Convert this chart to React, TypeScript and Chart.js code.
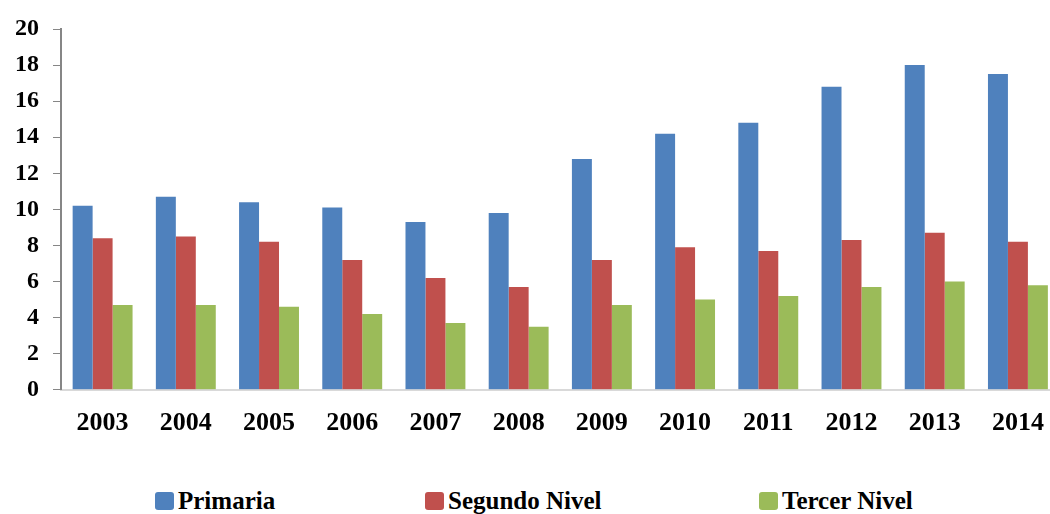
import React, { useEffect, useRef } from "react";
import { Chart, registerables } from "chart.js";

Chart.register(...registerables);

const categories = ["2003", "2004", "2005", "2006", "2007", "2008", "2009", "2010", "2011", "2012", "2013", "2014"];
const primaria = [10.2, 10.7, 10.4, 10.1, 9.3, 9.8, 12.8, 14.2, 14.8, 16.8, 18.0, 17.5];
const segundoNivel = [8.4, 8.5, 8.2, 7.2, 6.2, 5.7, 7.2, 7.9, 7.7, 8.3, 8.7, 8.2];
const tercerNivel = [4.7, 4.7, 4.6, 4.2, 3.7, 3.5, 4.7, 5.0, 5.2, 5.7, 6.0, 5.8];
const seriesNames = ["Primaria", "Segundo Nivel", "Tercer Nivel"];
const seriesColors = ["#4F81BD", "#C0504D", "#9BBB59"];
const legendLeft = [155, 425, 759];

const FONT = "'Liberation Serif', 'Times New Roman', serif";

export default function App() {
  const ref = useRef<HTMLCanvasElement | null>(null);

  useEffect(() => {
    if (!ref.current) return;
    const values = [primaria, segundoNivel, tercerNivel];
    const chart = new Chart(ref.current, {
      type: "bar",
      data: {
        labels: categories,
        datasets: seriesNames.map((name, i) => ({
          label: name,
          data: values[i],
          backgroundColor: seriesColors[i],
          borderWidth: 0,
          barPercentage: 1,
          categoryPercentage: 0.72,
        })),
      },
      options: {
        animation: false,
        responsive: true,
        maintainAspectRatio: false,
        layout: { padding: { top: 29, right: 2, left: 0, bottom: 0 } },
        plugins: {
          legend: { display: false },
          tooltip: { enabled: false },
        },
        scales: {
          x: {
            grid: { drawOnChartArea: false, drawTicks: false },
            border: { color: "#D9D9D9", width: 2 },
            ticks: {
              color: "#000",
              padding: 18,
              font: { family: FONT, size: 26, weight: "bold" },
            },
          },
          y: {
            min: 0,
            max: 20,
            afterFit: (axis: any) => {
              axis.width = 61;
            },
            grid: { drawOnChartArea: false, drawTicks: true, tickLength: 8, color: "#868686" },
            border: { color: "#868686", width: 2 },
            ticks: {
              stepSize: 2,
              color: "#000",
              padding: 14,
              font: { family: FONT, size: 24, weight: "bold" },
            },
          },
        },
      },
    });
    return () => chart.destroy();
  }, []);

  return (
    <div
      style={{
        position: "absolute",
        left: 0,
        top: 0,
        width: 1050,
        height: 514,
        overflow: "hidden",
        background: "#fff",
      }}
    >
      <div style={{ position: "absolute", left: 0, top: 0, width: 1062, height: 457 }}>
        <canvas ref={ref} />
      </div>
      {seriesNames.map((name, i) => (
        <div key={name}>
          <div
            style={{
              position: "absolute",
              left: legendLeft[i],
              top: 492,
              width: 19,
              height: 18,
              background: seriesColors[i],
              borderRadius: 3,
            }}
          />
          <span
            style={{
              position: "absolute",
              left: legendLeft[i] + 23,
              top: 488,
              lineHeight: "25px",
              fontFamily: FONT,
              fontWeight: "bold",
              fontSize: 25,
              color: "#000",
              whiteSpace: "nowrap",
            }}
          >
            {name}
          </span>
        </div>
      ))}
    </div>
  );
}
